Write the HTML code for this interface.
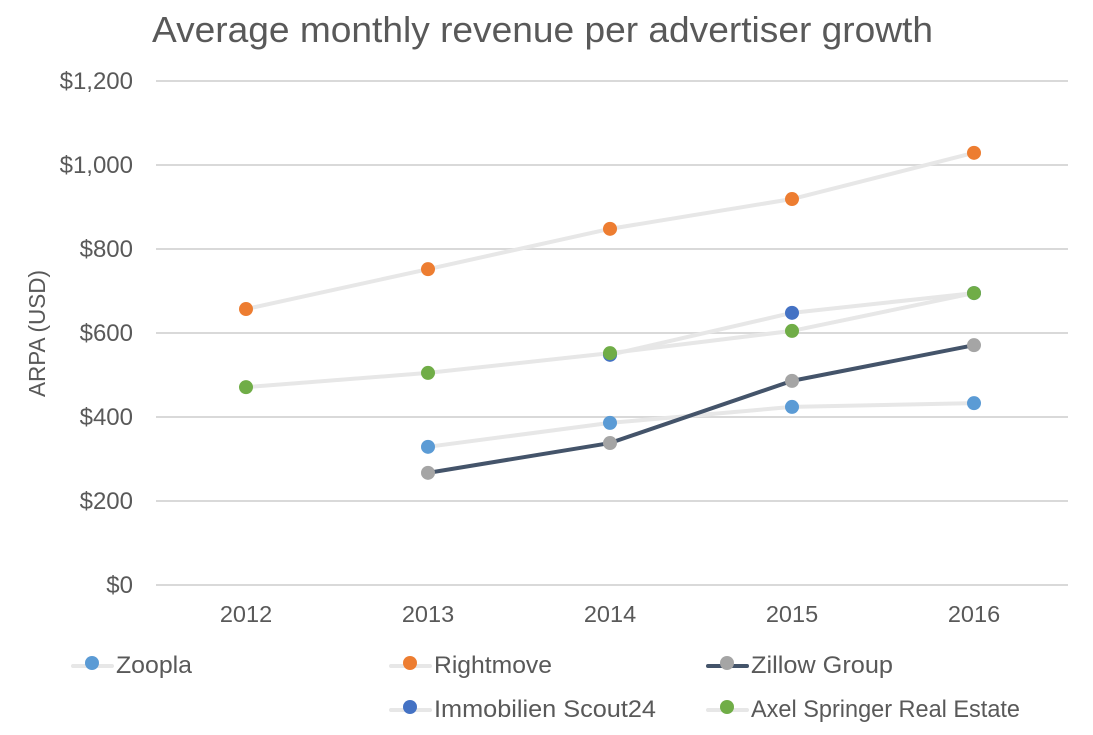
<!DOCTYPE html>
<html>
<head>
<meta charset="utf-8">
<style>
html,body{margin:0;padding:0;background:#fff;width:1093px;height:735px;overflow:hidden}
svg{display:block}
text{font-family:"Liberation Sans",sans-serif;fill:#595959}
</style>
</head>
<body>
<svg id="chart" width="1093" height="735" viewBox="0 0 1093 735" xmlns="http://www.w3.org/2000/svg">
<text x="152" y="42" font-size="36" textLength="781" lengthAdjust="spacingAndGlyphs">Average monthly revenue per advertiser growth</text>
<text transform="translate(45,397) rotate(-90)" font-size="23" textLength="127" lengthAdjust="spacingAndGlyphs">ARPA (USD)</text>
<g id="grid"></g>
<g id="series"></g>
<g id="legend"></g>
</svg>
<script>
const years = [2012, 2013, 2014, 2015, 2016];
const yTicks = [0, 200, 400, 600, 800, 1000, 1200];
const zoopla = [null, 329, 386, 424, 433];
const rightmove = [657, 752, 848, 919, 1029];
const zillow = [null, 267, 338, 486, 571];
const immobilien = [null, null, 548, 648, 695];
const axel = [471, 505, 552, 605, 695];

const NS = 'http://www.w3.org/2000/svg';
const xScale = i => 246 + i * 182;
const yScale = v => 585 - v * 0.42;
function make(tag, attrs, parent, text) {
  const el = document.createElementNS(NS, tag);
  for (const k in attrs) el.setAttribute(k, attrs[k]);
  if (text !== undefined) el.textContent = text;
  parent.appendChild(el);
  return el;
}
const grid = document.getElementById('grid');
const seriesG = document.getElementById('series');
const legendG = document.getElementById('legend');

yTicks.forEach(t => {
  const line = make('line', {x1: 156, x2: 1068, y1: yScale(t), y2: yScale(t), stroke: '#d9d9d9', 'stroke-width': 2}, grid);
  
  
  const label = make('text', {x: 133, y: yScale(t) + 8, 'text-anchor': 'end', 'font-size': 24}, grid, '$' + t.toLocaleString('en-US'));
  
  
});
years.forEach((y, i) => {
  const label = make('text', {x: xScale(i), y: 622, 'text-anchor': 'middle', 'font-size': 23.5}, grid, String(y));
  
  
});

const seriesList = [
  {name: 'Zoopla', values: zoopla, line: '#e7e7e7', dot: '#5b9bd5', lx: 72, ly: 666, tw: 76},
  {name: 'Rightmove', values: rightmove, line: '#e7e7e7', dot: '#ed7d31', lx: 390, ly: 666, tw: 118},
  {name: 'Immobilien Scout24', values: immobilien, line: '#e7e7e7', dot: '#4472c4', lx: 390, ly: 710, tw: 222},
  {name: 'Axel Springer Real Estate', values: axel, line: '#e7e7e7', dot: '#70ad47', lx: 707, ly: 710, tw: 269},
  {name: 'Zillow Group', values: zillow, line: '#44546a', dot: '#a5a5a5', lx: 707, ly: 666, tw: 142}
];

seriesList.forEach(s => {
  const pts = [];
  s.values.forEach((v, i) => { if (v !== null) pts.push(xScale(i) + ',' + yScale(v)); });
  const poly = make('polyline', {points: pts.join(' '), fill: 'none', stroke: s.line, 'stroke-width': 4, 'stroke-linejoin': 'round', 'stroke-linecap': 'round'}, seriesG);
  
  
});
seriesList.forEach(s => {
  s.values.forEach((v, i) => {
    if (v === null) return;
    const c = make('circle', {cx: xScale(i), cy: yScale(v), r: 7, fill: s.dot}, seriesG);
    
    
  });
  const line = make('line', {x1: s.lx + 1, x2: s.lx + 40, y1: s.ly, y2: s.ly, stroke: s.line, 'stroke-width': 4, 'stroke-linecap': 'round'}, legendG);
  
  
  const c = make('circle', {cx: s.lx + 20, cy: s.ly - 3, r: 7, fill: s.dot}, legendG);
  
  
  const t = make('text', {x: s.lx + 44, y: s.ly + 7, 'font-size': 24, textLength: s.tw, lengthAdjust: 'spacingAndGlyphs'}, legendG, s.name);
  
  
});
</script>
</body>
</html>
